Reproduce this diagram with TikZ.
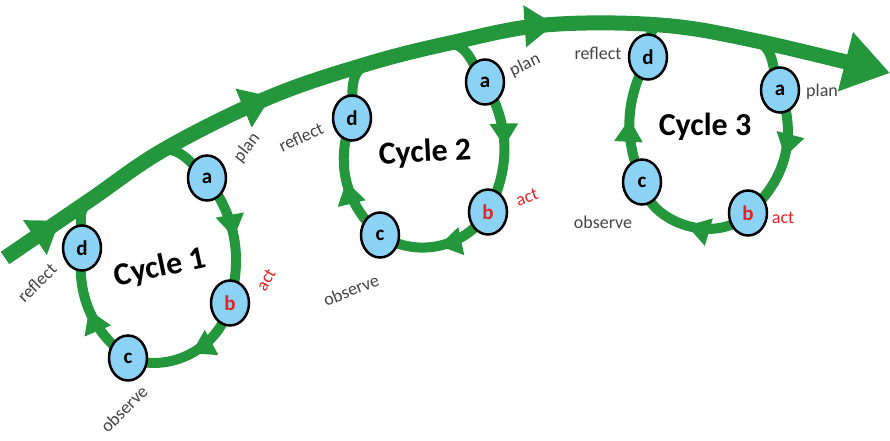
\documentclass[tikz,border=0pt]{standalone}
\usepackage{fontspec}
\setmainfont{Carlito}
\usetikzlibrary{arrows.meta,decorations.markings,shapes.geometric,backgrounds}
\definecolor{ringgreen}{RGB}{36,150,60}
\definecolor{dotblue}{RGB}{140,210,245}
\definecolor{actred}{RGB}{225,35,35}
\definecolor{labelgray}{RGB}{70,70,70}
\tikzset{
  stage/.style={ellipse, draw, line width=2.5pt, fill=dotblue, minimum width=38pt, minimum height=45pt, inner sep=0pt, font=\fontsize{21}{21}\selectfont\bfseries},
  ring/.style={draw=ringgreen, line width=10pt, postaction={decorate},
    decoration={markings, mark=at position 0.5 with {\arrow[ringgreen]{Triangle[width=27pt,length=23pt]}}}},
  link/.style={draw=ringgreen, line width=10pt},
  mainline/.style={draw=ringgreen, line width=15pt, -{Triangle[width=58pt,length=46pt]}, postaction={decorate},
    decoration={markings,
      mark=at position 0.07 with {\arrow[ringgreen]{Triangle[width=40pt,length=30pt]}},
      mark=at position 0.33 with {\arrow[ringgreen]{Triangle[width=40pt,length=30pt]}},
      mark=at position 0.64 with {\arrow[ringgreen]{Triangle[width=40pt,length=30pt]}}}},
  word/.style={text=labelgray, font=\fontsize{18}{18}\selectfont},
  title/.style={font=\fontsize{32}{32}\selectfont\bfseries}
}
\begin{document}
\begin{tikzpicture}[x=1pt, y=1pt]
    \useasboundingbox (0,0) rectangle (890,440);
    % cycle 1
    \node[stage] (A1) at (207, 262) {a};
    \node[stage, text=actred] (B1) at (230, 137) {b};
    \node[stage] (C1) at (128, 82) {c};
    \node[stage] (D1) at (82, 192) {d};
    \node[title, rotate=12] (T1) at (160, 172) {Cycle 1};
    \node[word, rotate=52] (P1) at (247, 292) {plan};
    \node[word, rotate=60, text=actred] (Q1) at (266, 160) {act};
    \node[word, rotate=45] (O1) at (124, 31) {observe};
    \node[word, rotate=45] (R1) at (37, 157) {reflect};
    % cycle 2
    \node[stage] (A2) at (485, 358) {a};
    \node[stage, text=actred] (B2) at (488, 228) {b};
    \node[stage] (C2) at (380, 205) {c};
    \node[stage] (D2) at (352, 322) {d};
    \node[title, rotate=3] (T2) at (425, 287) {Cycle 2};
    \node[word, rotate=25] (P2) at (525, 375) {plan};
    \node[word, rotate=20, text=actred] (Q2) at (527, 243) {act};
    \node[word, rotate=22] (O2) at (351, 150) {observe};
    \node[word, rotate=25] (R2) at (301, 303) {reflect};
    % cycle 3
    \node[stage] (A3) at (780, 350) {a};
    \node[stage, text=actred] (B3) at (748, 227) {b};
    \node[stage] (C3) at (642, 258) {c};
    \node[stage] (D3) at (648, 383) {d};
    \node[title] (T3) at (705, 313) {Cycle 3};
    \node[word] (P3) at (822, 348) {plan};
    \node[word, text=actred] (Q3) at (783, 222) {act};
    \node[word] (O3) at (603, 218) {observe};
    \node[word] (R3) at (598, 387) {reflect};
    % the long arrow
    \coordinate (M0) at (5, 182);
    \coordinate (M1) at (90, 240);
    \coordinate (M2) at (165, 291);
    \coordinate (M3) at (270, 343);
    \coordinate (M4) at (367, 376);
    \coordinate (M5) at (450, 397);
    \coordinate (M6) at (545, 415);
    \coordinate (M7) at (660, 415);
    \coordinate (M8) at (757, 399);
    \coordinate (M9) at (890, 367);
    \begin{pgfonlayer}{background}
        \draw[mainline] plot[smooth, tension=0.6] coordinates {(M0) (M1) (M2) (M3) (M4) (M5) (M6) (M7) (M8) (M9)};
        \draw[link] (D1.center) to[out=85, in=215] (M1);
        \draw[link] (M2) to[out=-5, in=140] (A1.center);
        \draw[ring] (A1.center) to[bend left=25] (B1.center);
        \draw[ring] (B1.center) to[bend left=50] (C1.center);
        \draw[ring] (C1.center) to[bend left=30] (D1.center);
        \draw[link] (D2.center) to[out=85, in=205] (M4);
        \draw[link] (M5) to[out=-10, in=130] (A2.center);
        \draw[ring] (A2.center) to[bend left=28] (B2.center);
        \draw[ring] (B2.center) to[bend left=45] (C2.center);
        \draw[ring] (C2.center) to[bend left=35] (D2.center);
        \draw[link] (D3.center) to[out=75, in=190] (M7);
        \draw[link] (M8) to[out=-25, in=115] (A3.center);
        \draw[ring] (A3.center) to[bend left=35] (B3.center);
        \draw[ring] (B3.center) to[bend left=65] (C3.center);
        \draw[ring] (C3.center) to[bend left=25] (D3.center);
    \end{pgfonlayer}
\end{tikzpicture}
\end{document}
